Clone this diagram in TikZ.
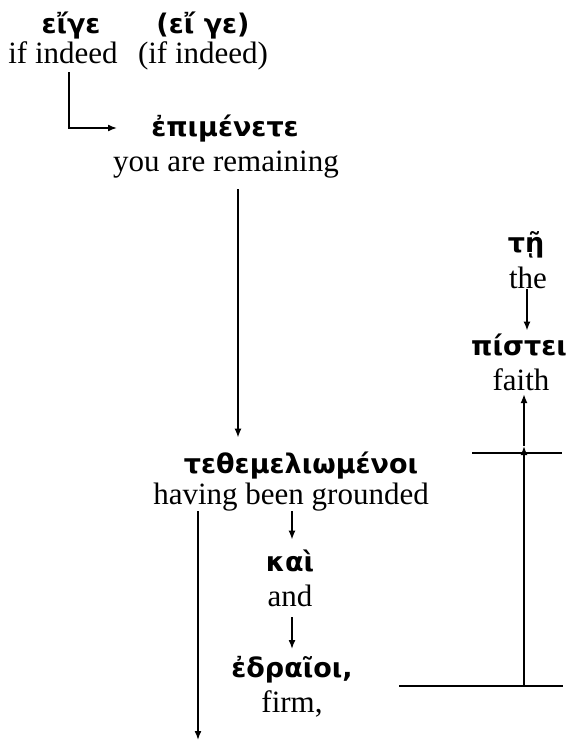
\documentclass[tikz,border=0pt]{standalone}
\usepackage{fontspec}
\setmainfont{Liberation Serif}
\newfontfamily\grkfont{DejaVu Sans}
\usetikzlibrary{arrows.meta}
\begin{document}
\begin{tikzpicture}[x=1pt,y=-1pt,>={Latex[length=9pt,width=7pt]},line width=1.6pt,
  gk/.style={font=\grkfont\bfseries\fontsize{27}{30}\selectfont,anchor=base,inner sep=0pt},
  en/.style={font=\fontsize{31}{36}\selectfont,anchor=base,inner sep=0pt}]
\useasboundingbox (0,0) rectangle (572,743);
\node[gk] (eige) at (71,34) {εἴγε};
\node[gk] (eigeb) at (203,34) {(εἴ γε)};
\node[en] (ifind) at (63,64) {if indeed};
\node[en] (ifindb) at (203,64) {(if indeed)};
\node[gk] (epim) at (225,137) {ἐπιμένετε};
\node[en] (remain) at (226,172) {you are remaining};
\node[gk] (tethem) at (301,473) {τεθεμελιωμένοι};
\node[en] (ground) at (291,504) {having been grounded};
\node[gk] (kai) at (290,571) {καὶ};
\node[en] (and) at (290,606) {and};
\node[gk] (hedr) at (292,677) {ἐδραῖοι,};
\node[en] (firm) at (292,712) {firm,};
\node[gk] (te) at (526,252) {τῇ};
\node[en] (the) at (528,288) {the};
\node[gk] (pist) at (519,355) {πίστει};
\node[en] (faith) at (521,390) {faith};
% connectors
\coordinate (elb) at (117,128);
\coordinate (lowend) at (198,740);
\coordinate (hl1) at (472,453);
\coordinate (hr1) at (562,453);
\coordinate (hl2) at (399,686);
\coordinate (hr2) at (563,686);
\coordinate (mid) at (524,446);
\draw[->,shorten <=7pt] (ifind.south -| 69,0) |- (elb);
\draw[->,shorten <=10pt,shorten >=13pt] (remain.south -| 238,0) -- (tethem.north -| 238,0);
\draw[->] (ground.south -| lowend) -- (lowend);
\draw[->,shorten >=9pt] (ground.south -| 292,0) -- (kai.north -| 292,0);
\draw[->,shorten <=10pt,shorten >=6pt] (and.south -| 292,0) -- (hedr.north -| 292,0);
\draw[->,shorten >=2pt] (the.south -| 527,0) -- (pist.north -| 527,0);
\draw (hl1) -- (hr1);
\draw (hl2) -- (hr2);
\draw[->] (hl2 -| mid) -- (mid);
\draw[->,shorten >=3pt] (mid) -- (faith.south -| mid);
\end{tikzpicture}
\end{document}
